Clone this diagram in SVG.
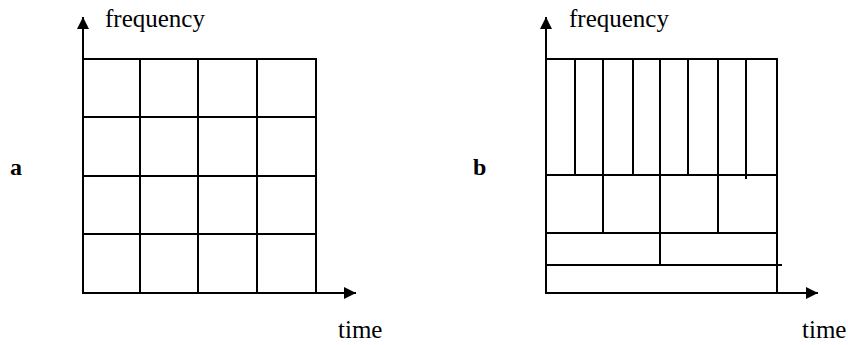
<svg xmlns="http://www.w3.org/2000/svg" width="848" height="345" viewBox="0 0 848 345">
<style>
.ln{stroke:#000;stroke-width:2;fill:none;stroke-linecap:square}
.t{font-family:"Liberation Serif","Times New Roman",serif;font-size:25px;fill:#000}
.lb{font-family:"Liberation Serif","Times New Roman",serif;font-size:24px;font-weight:bold;fill:#000}
</style>
<defs>
<marker id="ah" viewBox="0 0 12 12" refX="11" refY="6" markerWidth="12" markerHeight="12" markerUnits="userSpaceOnUse" orient="auto">
<path d="M0,0 L12,6 L0,12 Z" fill="#000"/>
</marker>
</defs>
<rect width="848" height="345" fill="#fff"/>
<g id="panel-a">
<text class="lb" x="10" y="175">a</text>
<text class="t" x="105" y="27">frequency</text>
<text class="t" x="338" y="338">time</text>
<g id="grid-a" class="ln">
<path d="M83,59 H316 V293"/>
<path d="M83,117 H316 M83,176 H316 M83,234 H316"/>
<path d="M140,59 V293 M198,59 V293 M257,59 V293"/>
</g>
</g>
<g id="panel-b">
<text class="lb" x="473" y="175">b</text>
<text class="t" x="569" y="27">frequency</text>
<text class="t" x="802" y="338">time</text>
<g id="grid-b" class="ln">
<path d="M546,59 H777 V293"/>
<path d="M546,175 H777 M546,233 H777 M546,265 H781"/>
<path d="M575,59 V175 M603,59 V175 M633,59 V175 M660,59 V175 M688,59 V175 M718,59 V175 M746,59 V178"/>
<path d="M603,175 V233 M660,175 V233 M718,175 V233"/>
<path d="M660,233 V265"/>
</g>
</g>
<g id="connectors" class="ln">
<line x1="83" y1="293" x2="83" y2="18" marker-end="url(#ah)"/>
<line x1="83" y1="293" x2="355" y2="293" marker-end="url(#ah)"/>
<line x1="546" y1="293" x2="546" y2="18" marker-end="url(#ah)"/>
<line x1="546" y1="293" x2="817" y2="293" marker-end="url(#ah)"/>
</g>
</svg>
